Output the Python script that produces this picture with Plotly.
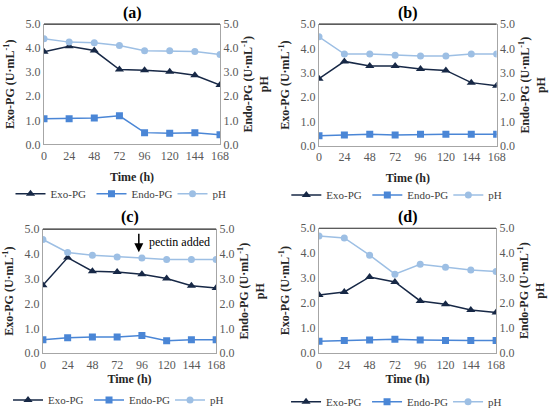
import plotly.graph_objects as go

# time axis (h)
time_h = [0, 24, 48, 72, 96, 120, 144, 168]
panel_labels = ["(a)", "(b)", "(c)", "(d)"]

# one list per series and panel
exo_a = [3.85, 4.08, 3.90, 3.11, 3.08, 3.02, 2.87, 2.47]
endo_a = [1.07, 1.07, 1.10, 1.19, 0.49, 0.46, 0.49, 0.40]
ph_a = [4.39, 4.25, 4.22, 4.11, 3.89, 3.89, 3.86, 3.74]

exo_b = [2.76, 3.47, 3.28, 3.28, 3.16, 3.10, 2.60, 2.47]
endo_b = [0.42, 0.45, 0.48, 0.45, 0.48, 0.48, 0.48, 0.48]
ph_b = [4.48, 3.77, 3.77, 3.72, 3.69, 3.69, 3.77, 3.77]

exo_c = [2.74, 3.85, 3.30, 3.27, 3.18, 3.01, 2.72, 2.63]
endo_c = [0.54, 0.62, 0.65, 0.65, 0.71, 0.50, 0.54, 0.54]
ph_c = [4.58, 4.06, 3.95, 3.88, 3.83, 3.77, 3.77, 3.77]

exo_d = [2.33, 2.45, 3.05, 2.85, 2.09, 1.96, 1.73, 1.63]
endo_d = [0.48, 0.51, 0.53, 0.56, 0.53, 0.51, 0.51, 0.51]
ph_d = [4.69, 4.61, 3.92, 3.16, 3.56, 3.44, 3.33, 3.27]

y_ticks = [0, 1, 2, 3, 4, 5]

panels = [(exo_a, endo_a, ph_a), (exo_b, endo_b, ph_b),
          (exo_c, endo_c, ph_c), (exo_d, endo_d, ph_d)]

# plot areas in paper coords
x_doms = [[0.080, 0.400], [0.580, 0.903], [0.078, 0.393], [0.580, 0.902]]
y_doms = [[0.652, 0.942], [0.648, 0.942], [0.149, 0.448], [0.149, 0.450]]
legend_y = [0.533, 0.530, 0.036, 0.032]
title_y = [0.969, 0.969, 0.477, 0.477]

c_exo = "#172846"
c_endo = "#4A86D6"
c_ph = "#9DBFE4"
serif = "Liberation Serif"
grey = "#595959"

fig = go.Figure()
layout = {}
annotations = []
shapes = []

for k, (exo, endo, ph) in enumerate(panels):
    xi = k + 1
    yl = 2 * k + 1
    yr = 2 * k + 2
    xname = "x" if xi == 1 else "x%d" % xi
    ylname = "y" if yl == 1 else "y%d" % yl
    yrname = "y%d" % yr
    leg = "legend" if k == 0 else "legend%d" % (k + 1)

    fig.add_trace(go.Scatter(x=time_h, y=exo, name="Exo-PG", mode="lines+markers",
                             line=dict(color=c_exo, width=1.5),
                             marker=dict(symbol="triangle-up", size=8, color=c_exo),
                             xaxis=xname, yaxis=ylname, legend=leg))
    fig.add_trace(go.Scatter(x=time_h, y=endo, name="Endo-PG", mode="lines+markers",
                             line=dict(color=c_endo, width=1.5),
                             marker=dict(symbol="square", size=7, color=c_endo),
                             xaxis=xname, yaxis=yrname, legend=leg))
    fig.add_trace(go.Scatter(x=time_h, y=ph, name="pH", mode="lines+markers",
                             line=dict(color=c_ph, width=1.5),
                             marker=dict(symbol="circle", size=7, color=c_ph),
                             xaxis=xname, yaxis=yrname, legend=leg))

    xkey = "xaxis" if xi == 1 else "xaxis%d" % xi
    layout[xkey] = dict(domain=x_doms[k], anchor=ylname, range=[0, 168],
                        tickvals=time_h, showgrid=False, zeroline=False,
                        showline=True, linecolor="#A6A6A6", linewidth=1,
                        ticks="", tickfont=dict(family=serif, size=12, color=grey),
                        title=dict(text="<b>Time (h)</b>", standoff=10,
                                   font=dict(family=serif, size=12, color="#262626")))
    ylkey = "yaxis" if yl == 1 else "yaxis%d" % yl
    layout[ylkey] = dict(domain=y_doms[k], anchor=xname, range=[0, 5],
                         tickvals=y_ticks, tickformat=".1f", showgrid=False,
                         zeroline=False, showline=True, linecolor="#A6A6A6",
                         ticks="", tickfont=dict(family=serif, size=12, color=grey),
                         title=dict(text="<b>Exo-PG (U·mL<sup>-1</sup>)</b>", standoff=8,
                                    font=dict(family=serif, size=12, color="#262626")))
    layout["yaxis%d" % yr] = dict(overlaying=ylname, side="right", anchor=xname,
                                  range=[0, 5], tickvals=y_ticks, tickformat=".1f",
                                  showgrid=False, zeroline=False, showline=True,
                                  linecolor="#A6A6A6", ticks="",
                                  tickfont=dict(family=serif, size=12, color=grey),
                                  title=dict(text="<b>Endo-PG (U·mL<sup>-1</sup>)<br>pH</b>",
                                             standoff=6,
                                             font=dict(family=serif, size=12, color="#262626")))
    layout[leg] = dict(orientation="h", x=sum(x_doms[k]) / 2, xanchor="center",
                       y=legend_y[k], yanchor="middle", xref="container", yref="container",
                       bgcolor="rgba(0,0,0,0)",
                       font=dict(family=serif, size=11, color="#404040"),
                       itemwidth=30, entrywidth=36, tracegroupgap=0)

    # dark top border of the frame
    shapes.append(dict(type="line", xref="%s domain" % xname, yref="%s domain" % ylname,
                       x0=0, x1=1, y0=1, y1=1, line=dict(color="#262626", width=1.2)))
    annotations.append(dict(text="<b>%s</b>" % panel_labels[k], xref="paper", yref="paper",
                            x=sum(x_doms[k]) / 2, y=title_y[k],
                            xanchor="center", yanchor="middle", showarrow=False,
                            font=dict(family=serif, size=16, color="black")))

# pectin arrow in panel (c)
annotations.append(dict(x=93, y=4.07, xref="x3", yref="y5", ax=0, ay=-20,
                        showarrow=True, arrowhead=2, arrowsize=1.2, arrowwidth=1.5,
                        arrowcolor="black", text=""))
annotations.append(dict(x=101, y=4.48, xref="x3", yref="y5", text="pectin added",
                        showarrow=False, xanchor="left",
                        font=dict(family=serif, size=12, color="black")))

fig.update_layout(**layout)
fig.update_layout(width=550, height=415, margin=dict(l=0, r=0, t=0, b=0, autoexpand=False),
                  paper_bgcolor="white", plot_bgcolor="white",
                  annotations=annotations, shapes=shapes)

# page body margin would push the figure off the window
fig.write_html("out.html", config={"displayModeBar": False},
               post_script="document.body.style.margin='0px';")
